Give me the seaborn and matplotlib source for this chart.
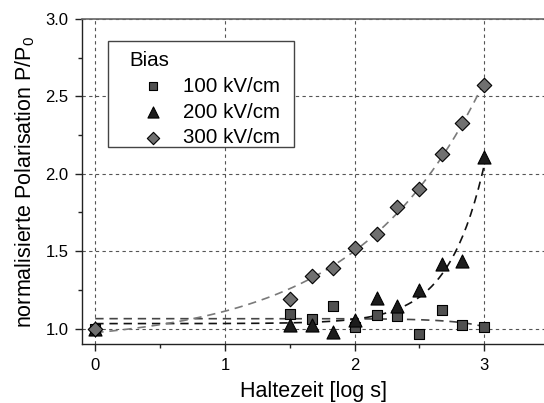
import numpy as np
import pandas as pd
import seaborn as sns
import matplotlib.pyplot as plt
from matplotlib.ticker import MultipleLocator
from matplotlib.patches import Rectangle

# Haltezeit in log s
haltezeit = [0.0, 1.5, 1.67, 1.83, 2.0, 2.17, 2.33, 2.5, 2.67, 2.83, 3.0]
p_100 = [1.00, 1.095, 1.06, 1.148, 1.01, 1.086, 1.08, 0.966, 1.118, 1.02, 1.013]
p_200 = [1.00, 1.02, 1.02, 0.98, 1.058, 1.198, 1.144, 1.247, 1.417, 1.434, 2.11]
p_300 = [1.00, 1.19, 1.337, 1.389, 1.52, 1.611, 1.786, 1.902, 2.125, 2.327, 2.574]
labels = ['100 kV/cm', '200 kV/cm', '300 kV/cm']

sns.set_theme(style='ticks', rc={'text.color': 'black', 'axes.labelcolor': 'black',
                                 'xtick.color': 'black', 'ytick.color': 'black'})
plt.rcParams['font.family'] = ['Liberation Sans', 'DejaVu Sans']
plt.rcParams['mathtext.fontset'] = 'custom'
plt.rcParams['mathtext.rm'] = 'Liberation Sans'


def exp_fit(x, y):
    # y = y0 + A*exp(x/t), brute force over t, linear lstsq for y0 and A
    x = np.asarray(x)
    y = np.asarray(y)
    best = None
    for t in np.linspace(0.1, 40, 4000):
        X = np.column_stack([np.ones_like(x), np.exp(x / t)])
        coef = np.linalg.lstsq(X, y, rcond=None)[0]
        r = np.sum((X @ coef - y) ** 2)
        if best is None or r < best[0]:
            best = (r, t, coef)
    _, t, coef = best
    return lambda xx: coef[0] + coef[1] * np.exp(xx / t)


df = pd.DataFrame({'x': haltezeit * 3,
                   'P': p_100 + p_200 + p_300,
                   'bias': np.repeat(labels, len(haltezeit))})

fig = plt.figure(figsize=(5.44, 4.03), dpi=100)
ax = fig.add_axes([82.3 / 544, 59 / 403, (544 - 82.3) / 544, 325 / 403])

styles = {
    '100 kV/cm': dict(marker='s', face='#505050', size=7.2, line='#454545'),
    '200 kV/cm': dict(marker='^', face='#1c1c1c', size=9.4, line='#111111'),
    '300 kV/cm': dict(marker='D', face='#707070', size=7.4, line='#7a7a7a'),
}

xfit = np.linspace(0, 3, 200)
for lab in labels:
    d = df[df['bias'] == lab]
    st = styles[lab]
    f = exp_fit(d['x'], d['P'])
    sns.lineplot(x=xfit, y=f(xfit), ax=ax, color=st['line'], lw=1.2,
                 dashes=False, linestyle=(0, (5, 3.5)), zorder=2, legend=False)

for lab in labels:
    d = df[df['bias'] == lab]
    st = styles[lab]
    sns.scatterplot(data=d, x='x', y='P', ax=ax, marker=st['marker'],
                    s=st['size'] ** 2, color=st['face'], edgecolor='black',
                    linewidth=0.8, zorder=3, label=lab, legend=False)

ax.set_xlim(-0.1, 3.46)
ax.set_ylim(0.9, 3.0)
ax.xaxis.set_major_locator(MultipleLocator(1))
ax.xaxis.set_minor_locator(MultipleLocator(0.5))
ax.yaxis.set_major_locator(MultipleLocator(0.5))
ax.yaxis.set_minor_locator(MultipleLocator(0.25))
ax.tick_params(which='major', direction='out', length=5, width=1, labelsize=12,
               pad=5, color='#222222')
ax.tick_params(which='minor', direction='out', length=3, width=1, color='#222222')
ax.grid(True, which='major', color='#555555', linestyle=(0, (3, 3)), lw=0.8)

ax.spines['right'].set_visible(False)
ax.spines['top'].set_color('#666666')
ax.spines['top'].set_linewidth(1.2)
for s in ['left', 'bottom']:
    ax.spines[s].set_color('#222222')
    ax.spines[s].set_linewidth(1.0)

ax.set_xlabel('Haltezeit [log s]', fontsize=15.5, labelpad=6)
ax.set_ylabel(r'normalisierte Polarisation $\mathregular{P/P_0}$', fontsize=15.5,
              labelpad=6)

# Legend with a hand drawn frame (Origin style paddings)
handles, _ = ax.get_legend_handles_labels()
frame = Rectangle((108 / 544, 1 - 147.3 / 403), (294.3 - 108) / 544,
                  (147.3 - 40.7) / 403, transform=fig.transFigure,
                  facecolor='white', edgecolor='#444444', lw=1.0, zorder=4.5)
ax.add_artist(frame)
frame.set_clip_on(False)
leg = ax.legend(handles, labels, title='Bias', loc='upper left',
                bbox_to_anchor=(129 / 544, 1 - 51 / 403),
                bbox_transform=fig.transFigure, frameon=False,
                fontsize=14.8, title_fontsize=14.8, alignment='left',
                borderpad=0, borderaxespad=0, handlelength=2.34,
                handletextpad=0.3, labelspacing=0.33, markerscale=0.85,
                scatterpoints=1)
leg.get_title().set_color('black')
for t in leg.get_texts():
    t.set_color('black')
leg.set_zorder(5)

fig.savefig('out.png', dpi=100)
